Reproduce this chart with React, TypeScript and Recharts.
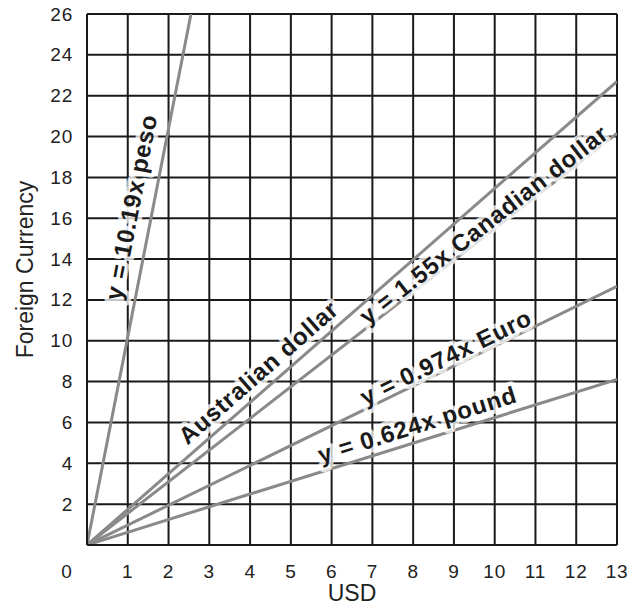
import {
  CartesianGrid,
  Line,
  LineChart,
  ReferenceDot,
  XAxis,
  YAxis,
} from "recharts";

// exchange-rate lines, all from the origin
const currencies = ["peso", "Australian dollar", "Canadian dollar", "Euro", "pound"];
const usdEnd = [2.55, 13, 13, 13, 13];
const foreignEnd = [26, 22.7, 20.15, 12.66, 8.11];
const lineLabels = [
  "y = 10.19x peso",
  "Australian dollar",
  "y = 1.55x Canadian dollar",
  "y = 0.974x Euro",
  "y = 0.624x pound",
];

const xTicks = [0, 1, 2, 3, 4, 5, 6, 7, 8, 9, 10, 11, 12, 13];
const yTicks = [0, 2, 4, 6, 8, 10, 12, 14, 16, 18, 20, 22, 24, 26];

// where each label sits (data coords)
const labelPos = [
  { x: 1.08, y: 16.55 },
  { x: 4.2, y: 8.45 },
  { x: 9.73, y: 15.7 },
  { x: 8.8, y: 9.2 },
  { x: 8.1, y: 5.9 },
];

const W = 629;
const H = 608;
const margin = { top: 14, right: 12, left: 0, bottom: 0 };
const plotW = 529;
const plotH = 531;
const font = "'Liberation Sans', Arial, Helvetica, sans-serif";

const XTick = (props: any) => {
  const { x, y, payload } = props;
  const dx = payload.value === 0 ? -20 : 0;
  return (
    <text x={x + dx} y={y + 18} textAnchor="middle" dominantBaseline="central" fontSize={19} letterSpacing={0.8} fontFamily={font} fill="#222">
      {payload.value}
    </text>
  );
};

const YTick = (props: any) => {
  const { x, y, payload } = props;
  if (payload.value === 0) return null;
  return (
    <text x={x - 6} y={y} textAnchor="end" dominantBaseline="central" fontSize={19} letterSpacing={0.8} fontFamily={font} fill="#222">
      {payload.value}
    </text>
  );
};

const XTitle = (props: any) => {
  const vb = props.viewBox;
  return (
    <text x={vb.x + vb.width / 2} y={vb.y + 48} textAnchor="middle" dominantBaseline="central" fontSize={23} fontFamily={font} fill="#222">
      USD
    </text>
  );
};

const YTitle = (props: any) => {
  const vb = props.viewBox;
  const cx = 25;
  const cy = vb.y + vb.height / 2 - 10;
  return (
    <text x={cx} y={cy} transform={`rotate(-90 ${cx} ${cy})`} textAnchor="middle" dominantBaseline="central" fontSize={23} fontFamily={font} fill="#222">
      Foreign Currency
    </text>
  );
};

export default function App() {
  const series = currencies.map((name, i) => ({
    name,
    data: [
      { usd: 0, value: 0 },
      { usd: usdEnd[i], value: foreignEnd[i] },
    ],
  }));

  return (
    <div style={{ position: "absolute", left: 0, top: 0, background: "#fff" }}>
      <LineChart width={W} height={H} margin={margin}>
        <CartesianGrid stroke="#1a1a1a" strokeWidth={2} />
        <XAxis
          type="number"
          dataKey="usd"
          domain={[0, 13]}
          ticks={xTicks}
          allowDataOverflow
          tickLine={false}
          axisLine={{ stroke: "#1a1a1a", strokeWidth: 2 }}
          tick={<XTick />}
          height={63}
          label={<XTitle />}
        />
        <YAxis
          type="number"
          dataKey="value"
          domain={[0, 26]}
          ticks={yTicks}
          allowDataOverflow
          tickLine={false}
          axisLine={{ stroke: "#1a1a1a", strokeWidth: 2 }}
          tick={<YTick />}
          width={87}
          label={<YTitle />}
        />
        {series.map((s) => (
          <Line
            key={s.name}
            data={s.data}
            dataKey="value"
            type="linear"
            stroke="#8a8a8a"
            strokeWidth={3}
            dot={false}
            activeDot={false}
            isAnimationActive={false}
          />
        ))}
        {lineLabels.map((text, i) => {
          const slope = foreignEnd[i] / usdEnd[i];
          const angle = (-Math.atan((slope * plotH) / 26 / (plotW / 13)) * 180) / Math.PI;
          return (
            <ReferenceDot
              key={text}
              x={labelPos[i].x}
              y={labelPos[i].y}
              r={0}
              ifOverflow="visible"
              shape={(p: any) => (
                <text
                  x={p.cx}
                  y={p.cy}
                  transform={`rotate(${angle} ${p.cx} ${p.cy})`}
                  textAnchor="middle"
                  dominantBaseline="central"
                  fontSize={24}
                  letterSpacing={0.8}
                  fontWeight="bold"
                  fontFamily={font}
                  fill="#1a1a1a"
                  stroke="rgba(255,255,255,0.75)"
                  strokeWidth={9}
                  paintOrder="stroke"
                  strokeLinejoin="round"
                >
                  {text}
                </text>
              )}
            />
          );
        })}
      </LineChart>
    </div>
  );
}
